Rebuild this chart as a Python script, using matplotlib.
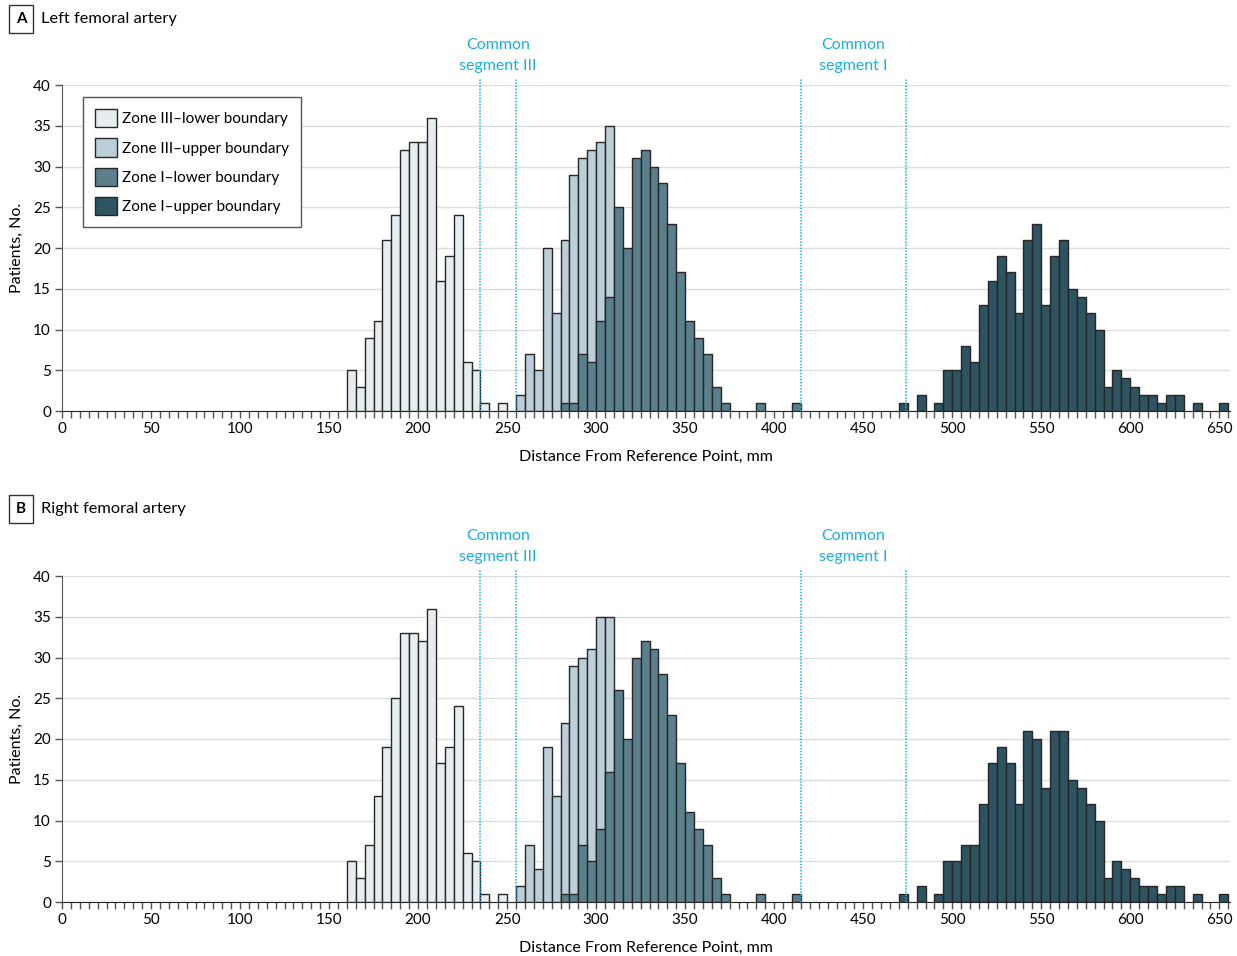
import matplotlib
matplotlib.use("Agg")
import matplotlib.pyplot as plt
from matplotlib.patches import Patch
from matplotlib.transforms import blended_transform_factory

plt.rcParams['font.family'] = ['Lato', 'DejaVu Sans']

# bin width in mm and the first bin of each series
bin_width = 5
zone3_lower_start = 160
zone3_upper_start = 255
zone1_lower_start = 280
zone1_upper_start = 470

# counts per 5-mm bin, left femoral artery
left_zone3_lower = [5, 3, 9, 11, 21, 24, 32, 33, 33, 36, 16, 19, 24, 6, 5, 1, 0, 1]
left_zone3_upper = [2, 7, 5, 20, 12, 21, 29, 31, 32, 33, 35]
left_zone1_lower = [1, 1, 7, 6, 11, 14, 25, 20, 31, 32, 30, 28, 23, 17, 11, 9, 7, 3, 1,
                    0, 0, 0, 1, 0, 0, 0, 1]
left_zone1_upper = [1, 0, 2, 0, 1, 5, 5, 8, 6, 13, 16, 19, 17, 12, 21, 23, 13, 19, 21, 15,
                    14, 12, 10, 3, 5, 4, 3, 2, 2, 1, 2, 2, 0, 1, 0, 0, 1]

# counts per 5-mm bin, right femoral artery
right_zone3_lower = [5, 3, 7, 13, 19, 25, 33, 33, 32, 36, 17, 19, 24, 6, 5, 1, 0, 1]
right_zone3_upper = [2, 7, 4, 19, 13, 22, 29, 30, 31, 35, 35]
right_zone1_lower = [1, 1, 7, 5, 9, 16, 26, 20, 30, 32, 31, 28, 23, 17, 11, 9, 7, 3, 1,
                     0, 0, 0, 1, 0, 0, 0, 1]
right_zone1_upper = [1, 0, 2, 0, 1, 5, 5, 7, 7, 12, 17, 19, 17, 12, 21, 20, 14, 21, 21, 15,
                     14, 12, 10, 3, 5, 4, 3, 2, 2, 1, 2, 2, 0, 1, 0, 0, 1]

series_labels = ['Zone III–lower boundary', 'Zone III–upper boundary',
                 'Zone I–lower boundary', 'Zone I–upper boundary']
series_colors = ['#e6edf1', '#bccfd8', '#5b808d', '#2e5361']

# common segment limits (mm)
segment3_edges = [235, 255]
segment1_edges = [415, 474]

cyan = '#19aee6'
edge = '#262626'


def draw_hist(ax, start, counts, color):
    xs = [start + bin_width * i for i, c in enumerate(counts) if c > 0]
    hs = [c for c in counts if c > 0]
    ax.bar(xs, hs, width=bin_width, align='edge', color=color,
           edgecolor=edge, linewidth=1.0, zorder=3)


def draw_panel(ax, data, legend=False):
    starts = [zone3_lower_start, zone3_upper_start, zone1_lower_start, zone1_upper_start]
    for start, counts, color in zip(starts, data, series_colors):
        draw_hist(ax, start, counts, color)

    ax.set_xlim(0, 656)
    ax.set_ylim(0, 40)
    ax.set_yticks(range(0, 41, 5))
    ax.set_xticks(range(0, 651, 50))
    ax.set_xticks(range(0, 656, 5), minor=True)
    ax.tick_params(axis='both', which='both', direction='out', length=5,
                   width=1, color='#555555', labelsize=11, pad=3)
    ax.grid(axis='y', color='#dddddd', linewidth=1, zorder=0)
    ax.set_axisbelow(True)
    for s in ['top', 'right']:
        ax.spines[s].set_visible(False)
    ax.spines['left'].set_color('#555555')
    ax.spines['bottom'].set_color('#222222')

    ax.set_xlabel('Distance From Reference Point, mm', fontsize=11.5, labelpad=10)
    ax.set_ylabel('Patients, No.', fontsize=11.5, labelpad=7)

    trans = blended_transform_factory(ax.transData, ax.transAxes)
    for x in segment3_edges + segment1_edges:
        ax.axvline(x, ymin=0, ymax=1.021, color=cyan, linestyle=(0, (1, 1)),
                   linewidth=1.1, clip_on=False, zorder=4)
    ax.text(sum(segment3_edges) / 2, 1.09, 'Common\nsegment III', transform=trans,
            ha='center', va='center', color=cyan, fontsize=11.5, linespacing=1.65)
    ax.text(sum(segment1_edges) / 2, 1.09, 'Common\nsegment I', transform=trans,
            ha='center', va='center', color=cyan, fontsize=11.5, linespacing=1.65)

    if legend:
        handles = [Patch(facecolor=c, edgecolor=edge, linewidth=1, label=l)
                   for c, l in zip(series_colors, series_labels)]
        leg = ax.legend(handles=handles, loc='upper left', bbox_to_anchor=(0.018, 0.963),
                        borderaxespad=0, fontsize=11, fancybox=False, framealpha=1,
                        edgecolor='#555555', handlelength=1.45, handleheight=1.45,
                        handletextpad=0.3, labelspacing=0.72, borderpad=0.8)
        leg.get_frame().set_linewidth(1)
        leg.set_zorder(5)


fig = plt.figure(figsize=(12.37, 9.56), dpi=100)
ax_a = fig.add_axes([62 / 1237, 1 - 411 / 956, 1168 / 1237, 326 / 956])
ax_b = fig.add_axes([62 / 1237, 1 - 902 / 956, 1168 / 1237, 326 / 956])

draw_panel(ax_a, [left_zone3_lower, left_zone3_upper, left_zone1_lower, left_zone1_upper],
           legend=True)
draw_panel(ax_b, [right_zone3_lower, right_zone3_upper, right_zone1_lower, right_zone1_upper])

for letter, title, ytop in [('A', 'Left femoral artery', 19), ('B', 'Right femoral artery', 509)]:
    fig.text(21 / 1237, 1 - ytop / 956, letter, ha='center', va='center', fontsize=11,
             fontweight='bold',
             bbox=dict(boxstyle='square,pad=0.45', facecolor='white', edgecolor='#333333',
                       linewidth=1))
    fig.text(41 / 1237, 1 - ytop / 956, title, ha='left', va='center', fontsize=11.8)

fig.savefig('out.png', dpi=100, facecolor='white')
